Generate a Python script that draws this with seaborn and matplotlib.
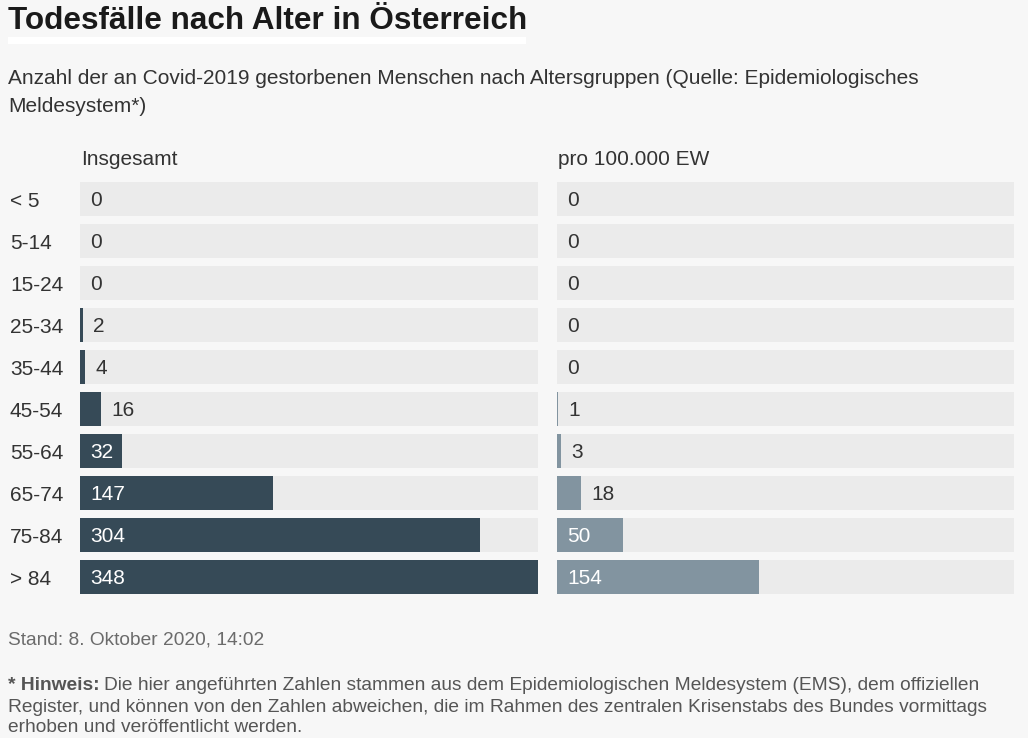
import matplotlib
matplotlib.use("Agg")
import matplotlib.pyplot as plt
import matplotlib.transforms as mtransforms
import seaborn as sns
import pandas as pd
import numpy as np

age_groups = ["< 5", "5-14", "15-24", "25-34", "35-44", "45-54", "55-64", "65-74", "75-84", "> 84"]
deaths_total = [0, 0, 0, 2, 4, 16, 32, 147, 304, 348]
deaths_per_100k = [0, 0, 0, 0, 0, 1, 3, 18, 50, 154]
panel_titles = ["Insgesamt", "pro 100.000 EW"]

sns.set_theme(style="white")
plt.rcParams["font.family"] = ["Liberation Sans", "DejaVu Sans"]

BG = "#f7f7f7"
TRACK = "#ebebeb"
DARK = "#364a57"
LIGHT = "#8294a0"
TXT = "#333333"
FS = 15

fig = plt.figure(figsize=(10.28, 7.38), dpi=100, facecolor=BG)
W, H = 1028, 738

def add_ax(x0, x1, y0, y1):
    return fig.add_axes([x0 / W, 1 - y1 / H, (x1 - x0) / W, (y1 - y0) / H])

ax_l = add_ax(80, 538, 178, 598)
ax_r = add_ax(557, 1014, 178, 598)

xmax = max(deaths_total)
for ax, vals, col, title in [(ax_l, deaths_total, DARK, panel_titles[0]),
                              (ax_r, deaths_per_100k, LIGHT, panel_titles[1])]:
    df = pd.DataFrame({"age": age_groups, "value": vals, "track": [xmax] * len(vals)})
    ax.set_facecolor(BG)
    sns.barplot(data=df, y="age", x="track", color=TRACK, width=0.83, ax=ax,
                saturation=1, orient="h", linewidth=0)
    sns.barplot(data=df, y="age", x="value", color=col, width=0.83, ax=ax,
                saturation=1, orient="h", linewidth=0)
    ax.set_xlim(0, xmax)
    ax.set_ylim(len(age_groups) - 0.5, -0.5)
    ax.set_xlabel("")
    ax.set_ylabel("")
    ax.set_xticks([])
    ax.set_yticks([])
    for s in ax.spines.values():
        s.set_visible(False)
    ax_w_px = ax.get_position().width * W
    for i, v in enumerate(vals):
        bar_px = v / xmax * ax_w_px
        if bar_px > 38:
            ax.annotate(str(v), (0, i), xytext=(7.5, -1), textcoords="offset points",
                        va="center", ha="left", color="white", fontsize=FS)
        else:
            ax.annotate(str(v), (v, i), xytext=(7.5, -1), textcoords="offset points",
                        va="center", ha="left", color=TXT, fontsize=FS)
    ax.text(0.003, 1.045, title, transform=ax.transAxes, ha="left", va="center",
            fontsize=FS, color=TXT)

# category labels at the far left
trans = mtransforms.blended_transform_factory(fig.transFigure, ax_l.transData)
trans = trans + mtransforms.ScaledTranslation(0, -2.5 / 100, fig.dpi_scale_trans)
for i, lab in enumerate(age_groups):
    ax_l.text(10 / W, i, lab, transform=trans, ha="left", va="center", fontsize=FS,
              color=TXT, clip_on=False)

# Title with white underline
fig.patches.append(plt.Rectangle((8 / W, 1 - 44 / H), 518 / W, 7 / H,
                                 transform=fig.transFigure, facecolor="white",
                                 edgecolor="none"))
fig.text(8 / W, 1 - 21 / H, "Todesfälle nach Alter in Österreich", fontsize=22.7,
         fontweight="bold", color="#1a1a1a", ha="left", va="center")
fig.text(8 / W, 1 - 78 / H,
         "Anzahl der an Covid-2019 gestorbenen Menschen nach Altersgruppen (Quelle: Epidemiologisches",
         fontsize=15, color=TXT, ha="left", va="center")
fig.text(8 / W, 1 - 107 / H, "Meldesystem*)", fontsize=15, color=TXT,
         ha="left", va="center")

fig.text(8 / W, 1 - 640 / H, "Stand: 8. Oktober 2020, 14:02", fontsize=13.8,
         color="#6b6b6b", ha="left", va="center")

foot_col = "#555555"
FF = 13.8
t = fig.text(8 / W, 1 - 685 / H, "* Hinweis:", fontsize=FF, fontweight="bold",
             color=foot_col, ha="left", va="center")
fig.canvas.draw()
bb = t.get_window_extent()
fig.text((bb.x1 + 4) / W, 1 - 685 / H,
         "Die hier angeführten Zahlen stammen aus dem Epidemiologischen Meldesystem (EMS), dem offiziellen",
         fontsize=FF, color=foot_col, ha="left", va="center")
fig.text(8 / W, 1 - 707 / H,
         "Register, und können von den Zahlen abweichen, die im Rahmen des zentralen Krisenstabs des Bundes vormittags",
         fontsize=FF, color=foot_col, ha="left", va="center")
fig.text(8 / W, 1 - 728 / H, "erhoben und veröffentlicht werden.", fontsize=FF,
         color=foot_col, ha="left", va="center")

fig.savefig("out.png", dpi=100, facecolor=BG)
